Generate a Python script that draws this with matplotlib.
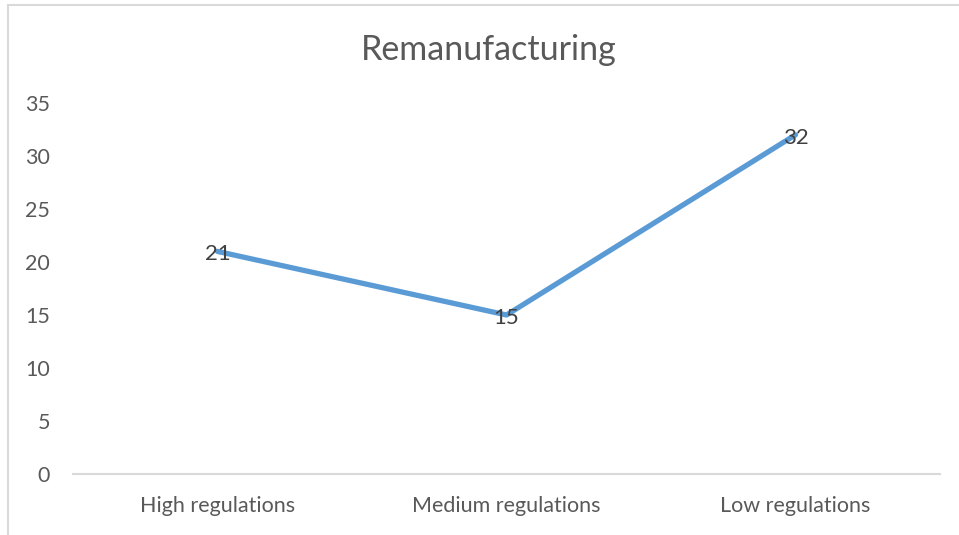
import matplotlib
matplotlib.use("Agg")
import matplotlib.pyplot as plt
from matplotlib.patches import Rectangle

categories = ["High regulations", "Medium regulations", "Low regulations"]
values = [21, 15, 32]
y_ticks = [0, 5, 10, 15, 20, 25, 30, 35]
title = "Remanufacturing"

W, H = 959, 535
fig = plt.figure(figsize=(W / 100, H / 100), dpi=100)
plt.rcParams["font.family"] = ["Lato", "DejaVu Sans"]

# chart frame (runs off the right and bottom edges)
fig.patches.append(Rectangle((8 / W, -0.05), 1.0, 1 - 5 / H + 0.05,
                             transform=fig.transFigure, fill=False,
                             edgecolor="#D9D9D9", linewidth=1.5))

left, right = 73 / W, 940 / W
bottom = 1 - 474 / H
top = 1 - 103 / H
ax = fig.add_axes([left, bottom, right - left, top - bottom])

x = list(range(len(categories)))
ax.plot(x, values, color="#5B9BD5", linewidth=3.8, solid_capstyle="round")
for xi, v in zip(x, values):
    ax.annotate(str(v), (xi, v), xytext=(0, -2), textcoords="offset points",
                ha="center", va="center", fontsize=16, color="#404040")

ax.set_xlim(-0.5, len(categories) - 0.5)
ax.set_ylim(0, 35)
ax.set_yticks(y_ticks)
ax.set_xticks(x)
ax.set_xticklabels(categories)
ax.tick_params(axis="both", length=0, labelsize=15.5, labelcolor="#595959")
ax.tick_params(axis="y", pad=16.5)
ax.tick_params(axis="x", pad=16)
for s in ["top", "right", "left"]:
    ax.spines[s].set_visible(False)
ax.spines["bottom"].set_color("#D9D9D9")
ax.spines["bottom"].set_linewidth(1.5)

fig.text(489 / W, 1 - 50 / H, title, ha="center", va="center",
         fontsize=24.5, color="#595959")

fig.savefig("out.png", dpi=100, facecolor="white")
